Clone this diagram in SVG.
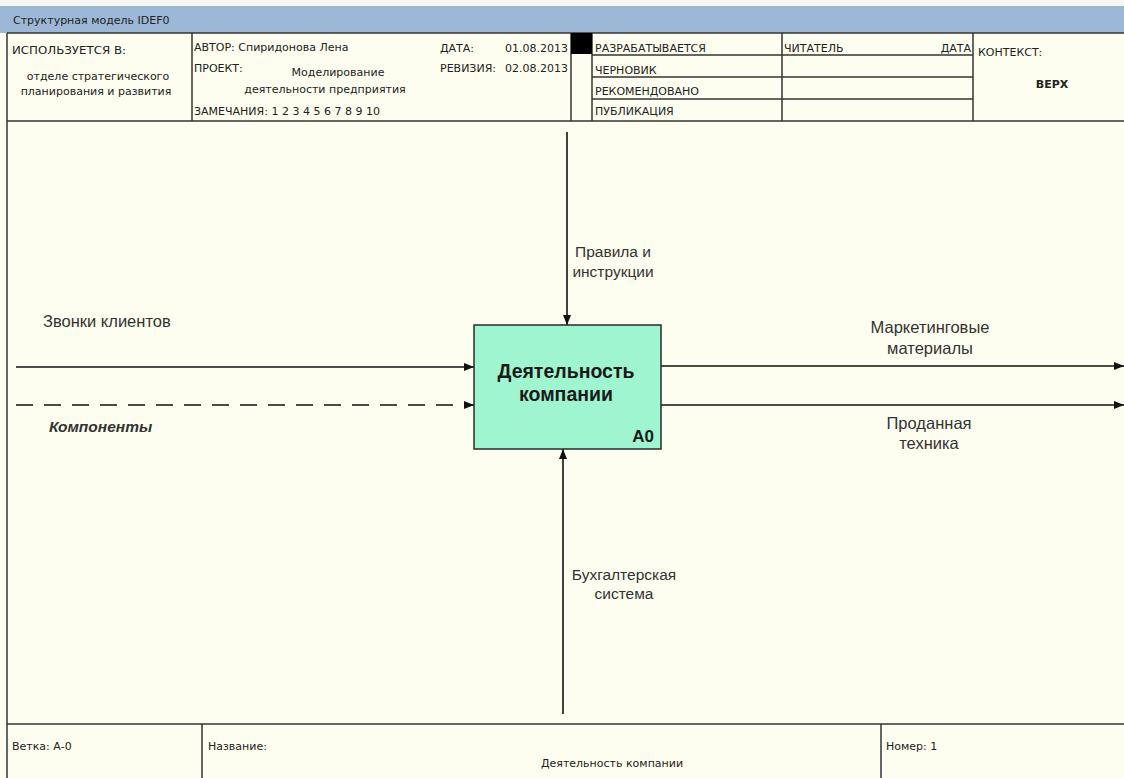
<svg xmlns="http://www.w3.org/2000/svg" width="1124" height="778" viewBox="0 0 1124 778">
  <style>
    .frame { fill: none; stroke: #333; stroke-width: 1.5; }
    .hdr { font-family: "DejaVu Sans", sans-serif; font-size: 11px; fill: #222; }
    .lbl { font-family: "Liberation Sans", Arial, sans-serif; font-size: 15.5px; fill: #333; }
    .big { font-size: 16.5px; }
    .flow { stroke: #111; stroke-width: 1.6; fill: none; }
    .title { font-family: "Liberation Sans", Arial, sans-serif; font-weight: bold; fill: #1a1a1a; }
  </style>
  <defs>
    <marker id="arrow" viewBox="0 0 10 8" refX="10" refY="4" markerWidth="10" markerHeight="8" markerUnits="userSpaceOnUse" orient="auto">
      <path d="M0,0 L10,4 L0,8 z" fill="#111"/>
    </marker>
  </defs>

  <!-- sheet background -->
  <rect x="0" y="0" width="1124" height="778" fill="#fefef0"/>
  <rect x="0" y="0" width="1124" height="6" fill="#f6f6f2"/>

  <!-- window title bar -->
  <g id="titlebar">
    <rect x="0" y="6" width="1124" height="27" fill="#9cb8d6"/>
    <text class="hdr" x="13" y="24" font-size="11.5">Структурная модель IDEF0</text>
  </g>

  <!-- header block -->
  <g id="header">
    <line class="frame" x1="7" y1="33" x2="1124" y2="33"/>
    <line class="frame" x1="7" y1="121" x2="1124" y2="121"/>
    <line class="frame" x1="7" y1="33" x2="7" y2="778"/>
    <line class="frame" x1="192" y1="33" x2="192" y2="121"/>
    <line class="frame" x1="571" y1="33" x2="571" y2="121"/>
    <line class="frame" x1="592" y1="33" x2="592" y2="121"/>
    <line class="frame" x1="782" y1="33" x2="782" y2="121"/>
    <line class="frame" x1="973" y1="33" x2="973" y2="121"/>
    <line class="frame" x1="592" y1="55" x2="973" y2="55"/>
    <line class="frame" x1="592" y1="77" x2="973" y2="77"/>
    <line class="frame" x1="592" y1="99" x2="973" y2="99"/>
    <rect x="571" y="33" width="21" height="21" fill="#000"/>

    <text class="hdr" x="12" y="54" font-size="12" textLength="114" lengthAdjust="spacingAndGlyphs">ИСПОЛЬЗУЕТСЯ В:</text>
    <text class="hdr" x="98" y="80" text-anchor="middle" font-size="12">отделе стратегического</text>
    <text class="hdr" x="96" y="95" text-anchor="middle" font-size="12">планирования и развития</text>

    <text class="hdr" x="194" y="51">АВТОР: Спиридонова Лена</text>
    <text class="hdr" x="194" y="72">ПРОЕКТ:</text>
    <text class="hdr" x="338" y="76" text-anchor="middle">Моделирование</text>
    <text class="hdr" x="325" y="93" text-anchor="middle">деятельности предприятия</text>
    <text class="hdr" x="194" y="115">ЗАМЕЧАНИЯ: 1 2 3 4 5 6 7 8 9 10</text>
    <text class="hdr" x="440" y="52">ДАТА:</text>
    <text class="hdr" x="568" y="52" text-anchor="end">01.08.2013</text>
    <text class="hdr" x="440" y="72">РЕВИЗИЯ:</text>
    <text class="hdr" x="568" y="72" text-anchor="end">02.08.2013</text>

    <text class="hdr" x="595" y="52">РАЗРАБАТЫВАЕТСЯ</text>
    <text class="hdr" x="595" y="74">ЧЕРНОВИК</text>
    <text class="hdr" x="595" y="95">РЕКОМЕНДОВАНО</text>
    <text class="hdr" x="595" y="115">ПУБЛИКАЦИЯ</text>

    <text class="hdr" x="784" y="52">ЧИТАТЕЛЬ</text>
    <text class="hdr" x="971" y="52" text-anchor="end">ДАТА</text>

    <text class="hdr" x="978" y="56" font-size="12.5">КОНТЕКСТ:</text>
    <text class="hdr" x="1052" y="88" text-anchor="middle" font-size="14" font-weight="bold">ВЕРХ</text>
  </g>

  <!-- footer block -->
  <g id="footer">
    <line class="frame" x1="7" y1="724" x2="1124" y2="724"/>
    <line class="frame" x1="202" y1="724" x2="202" y2="778"/>
    <line class="frame" x1="881" y1="724" x2="881" y2="778"/>
    <text class="hdr" x="12" y="750" font-size="10.5">Ветка: А-0</text>
    <text class="hdr" x="208" y="750" font-size="10.5">Название:</text>
    <text class="hdr" x="612" y="767" text-anchor="middle">Деятельность компании</text>
    <text class="hdr" x="886" y="750" font-size="10.5">Номер: 1</text>
  </g>

  <!-- arrows between the activity and the boundary -->
  <g id="connectors">
    <line class="flow" x1="567" y1="132" x2="567" y2="325" marker-end="url(#arrow)"/>
    <line class="flow" x1="563" y1="714" x2="563" y2="449" marker-end="url(#arrow)"/>
    <line class="flow" x1="16" y1="367" x2="474" y2="367" marker-end="url(#arrow)"/>
    <line class="flow" x1="16" y1="405" x2="474" y2="405" stroke-dasharray="17 11" marker-end="url(#arrow)"/>
    <line class="flow" x1="661" y1="366" x2="1124" y2="366" marker-end="url(#arrow)"/>
    <line class="flow" x1="661" y1="405" x2="1124" y2="405" marker-end="url(#arrow)"/>

    <text class="lbl" x="613" y="257" text-anchor="middle">Правила и</text>
    <text class="lbl" x="613" y="277" text-anchor="middle">инструкции</text>
    <text class="lbl" x="624" y="580" text-anchor="middle">Бухгалтерская</text>
    <text class="lbl" x="624" y="599" text-anchor="middle">система</text>
    <text class="lbl big" x="43" y="327">Звонки клиентов</text>
    <text class="lbl" x="49" y="432" font-weight="bold" font-style="italic" fill="#222">Компоненты</text>
    <text class="lbl big" x="930" y="333" text-anchor="middle">Маркетинговые</text>
    <text class="lbl big" x="930" y="354" text-anchor="middle">материалы</text>
    <text class="lbl big" x="929" y="429" text-anchor="middle">Проданная</text>
    <text class="lbl big" x="929" y="449" text-anchor="middle">техника</text>
  </g>

  <!-- activity A0 -->
  <g id="node-A0">
    <rect x="474" y="325" width="187" height="124" fill="#9ef5d0" stroke="#2a2a2a" stroke-width="1.5"/>
    <text class="title" x="566" y="378" text-anchor="middle" font-size="19.5">Деятельность</text>
    <text class="title" x="566" y="401" text-anchor="middle" font-size="19.5">компании</text>
    <text class="title" x="654" y="442" text-anchor="end" font-size="17">А0</text>
  </g>
</svg>
